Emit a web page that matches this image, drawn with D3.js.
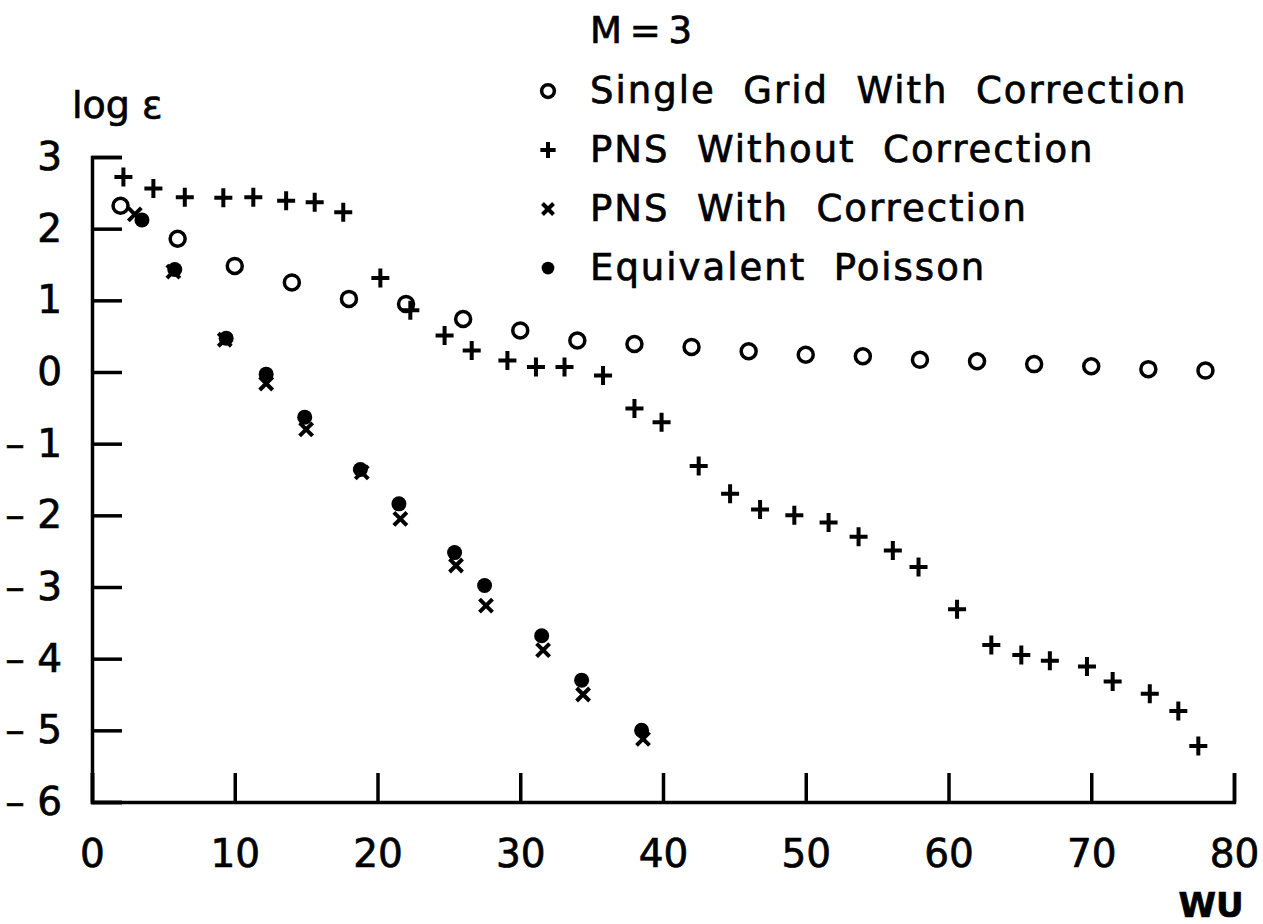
<!DOCTYPE html>
<html>
<head>
<meta charset="utf-8">
<script src="https://cdn.jsdelivr.net/npm/d3@7"></script>
<style>
    body { margin: 0; background: #fff; }
    text { font-family: "DejaVu Sans", sans-serif; fill: #000; stroke: #000; stroke-width: 0.7px; white-space: pre; }
    .axis path, .axis line { stroke: #000; stroke-width: 3.5; stroke-linejoin: miter; }
    .axis text { font-size: 39px; }
</style>
</head>
<body>
<div id="scatter"></div>
<script>
// data (x = WU, y = log eps)
var gridX = [2, 6, 10, 14, 18, 22, 26, 30, 34, 38, 42, 46, 50, 54, 58, 62, 66, 70, 74, 78];
var gridY = [2.32, 1.86, 1.48, 1.25, 1.02, 0.95, 0.74, 0.58, 0.44, 0.39, 0.35, 0.29, 0.24, 0.22, 0.17, 0.15, 0.11, 0.08, 0.04, 0.02];

var pnsX = [2.2, 4.3, 6.5, 9.2, 11.3, 13.6, 15.6, 17.6, 20.2, 22.3, 24.7, 26.6, 29.1, 31.1, 33.1, 35.8, 38.0, 39.9,
    42.5, 44.7, 46.8, 49.2, 51.6, 53.7, 56.1, 57.9, 60.6, 63.0, 65.1, 67.1, 69.7, 71.5, 74.1, 76.1, 77.5];
var pnsY = [2.72, 2.56, 2.44, 2.43, 2.44, 2.39, 2.37, 2.23, 1.31, 0.86, 0.51, 0.30, 0.16, 0.07, 0.07, -0.05, -0.51, -0.70,
    -1.31, -1.70, -1.92, -2.00, -2.10, -2.30, -2.49, -2.72, -3.31, -3.81, -3.95, -4.03, -4.11, -4.32, -4.49, -4.73, -5.22];

var pnsCorrX = [3.0, 5.7, 9.3, 12.2, 15.0, 18.9, 21.6, 25.5, 27.6, 31.6, 34.4, 38.6];
var pnsCorrY = [2.20, 1.40, 0.45, -0.16, -0.80, -1.40, -2.05, -2.70, -3.26, -3.88, -4.50, -5.12];

var poissonX = [3.5, 5.8, 9.4, 12.2, 14.9, 18.8, 21.5, 25.4, 27.5, 31.5, 34.3, 38.5];
var poissonY = [2.12, 1.43, 0.47, -0.03, -0.63, -1.36, -1.84, -2.52, -2.98, -3.68, -4.30, -5.00];

var xTicks = [0, 10, 20, 30, 40, 50, 60, 70, 80];
var yTicks = [3, 2, 1, 0, -1, -2, -3, -4, -5, -6];

var legendLabels = ["Single  Grid  With  Correction", "PNS  Without  Correction", "PNS  With  Correction", "Equivalent  Poisson"];
var legendShapes = ["circle", "plus", "cross", "dot"];

// svg size
var svgWidth = 1263;
var svgHeight = 924;

var svg = d3.select('#scatter')
    .append('svg')
    .attr('width', svgWidth)
    .attr('height', svgHeight);

// scales
var xScale = d3.scaleLinear()
    .domain([0, 80])
    .range([92, 1234]);

var yScale = d3.scaleLinear()
    .domain([-6, 3])
    .range([802, 157]);

// axes, ticks point inwards
var xAxis = d3.axisBottom(xScale)
    .tickValues(xTicks)
    .tickSizeInner(-29)
    .tickSizeOuter(-29)
    .tickPadding(42);

var yAxis = d3.axisLeft(yScale)
    .tickValues(yTicks)
    .tickSizeInner(-30)
    .tickSizeOuter(-30)
    .tickFormat(d => d < 0 ? '– ' + Math.abs(d) : d)
    .tickPadding(30);

svg.append('g')
    .attr('class', 'axis')
    .attr('transform', `translate(0, ${yScale(-6)})`)
    .call(xAxis)
    .selectAll('text')
    .attr('dy', '0.6em');

svg.append('g')
    .attr('class', 'axis')
    .attr('transform', `translate(${xScale(0)}, 0)`)
    .call(yAxis);

// marker drawing
function drawMarker(g, shape, s) {
    if (shape == 'circle') {
        g.append('circle').attr('r', 7.5 * s)
            .attr('fill', 'none').attr('stroke', '#000').attr('stroke-width', 3.5);
    } else if (shape == 'dot') {
        g.append('circle').attr('r', 7.5 * s).attr('fill', '#000');
    } else if (shape == 'plus') {
        g.append('path').attr('d', `M${-9 * s},0H${9 * s}M0,${-9.5 * s}V${9.5 * s}`)
            .attr('stroke', '#000').attr('stroke-width', 4);
    } else {
        g.append('path').attr('d', `M${-6.5 * s},${-6.5 * s}L${6.5 * s},${6.5 * s}M${-6.5 * s},${6.5 * s}L${6.5 * s},${-6.5 * s}`)
            .attr('stroke', '#000').attr('stroke-width', 4);
    }
}

function plotSeries(xs, ys, shape) {
    var pts = xs.map((d, i) => ({x: d, y: ys[i]}));
    svg.append('g')
        .selectAll('g')
        .data(pts)
        .enter()
        .append('g')
        .attr('transform', d => `translate(${xScale(d.x)}, ${yScale(d.y)})`)
        .each(function() { drawMarker(d3.select(this), shape, 1); });
}

plotSeries(pnsX, pnsY, 'plus');
plotSeries(gridX, gridY, 'circle');
plotSeries(pnsCorrX, pnsCorrY, 'cross');
plotSeries(poissonX, poissonY, 'dot');

// axis titles
svg.append('text')
    .attr('x', 72)
    .attr('y', 118)
    .style('font-size', '38px')
    .text('log ε');

svg.append('text')
    .attr('x', 1211)
    .attr('y', 917)
    .style('font-size', '34px')
    .style('font-weight', 'bold')
    .style('text-anchor', 'middle')
    .text('WU');

// legend
svg.append('text')
    .attr('x', 590)
    .attr('y', 43)
    .style('font-size', '37px')
    .style('letter-spacing', '-2px')
    .text('M = 3');

var legend = svg.append('g')
    .selectAll('g')
    .data(legendLabels)
    .enter()
    .append('g')
    .attr('transform', (d, i) => `translate(548, ${91 + i * 59})`);

legend.each(function(d, i) { drawMarker(d3.select(this), legendShapes[i], 0.85); });

legend.append('text')
    .attr('x', 42)
    .attr('y', 12)
    .style('font-size', '37px')
    .style('letter-spacing', '2px')
    .text(d => d);
</script>
</body>
</html>
